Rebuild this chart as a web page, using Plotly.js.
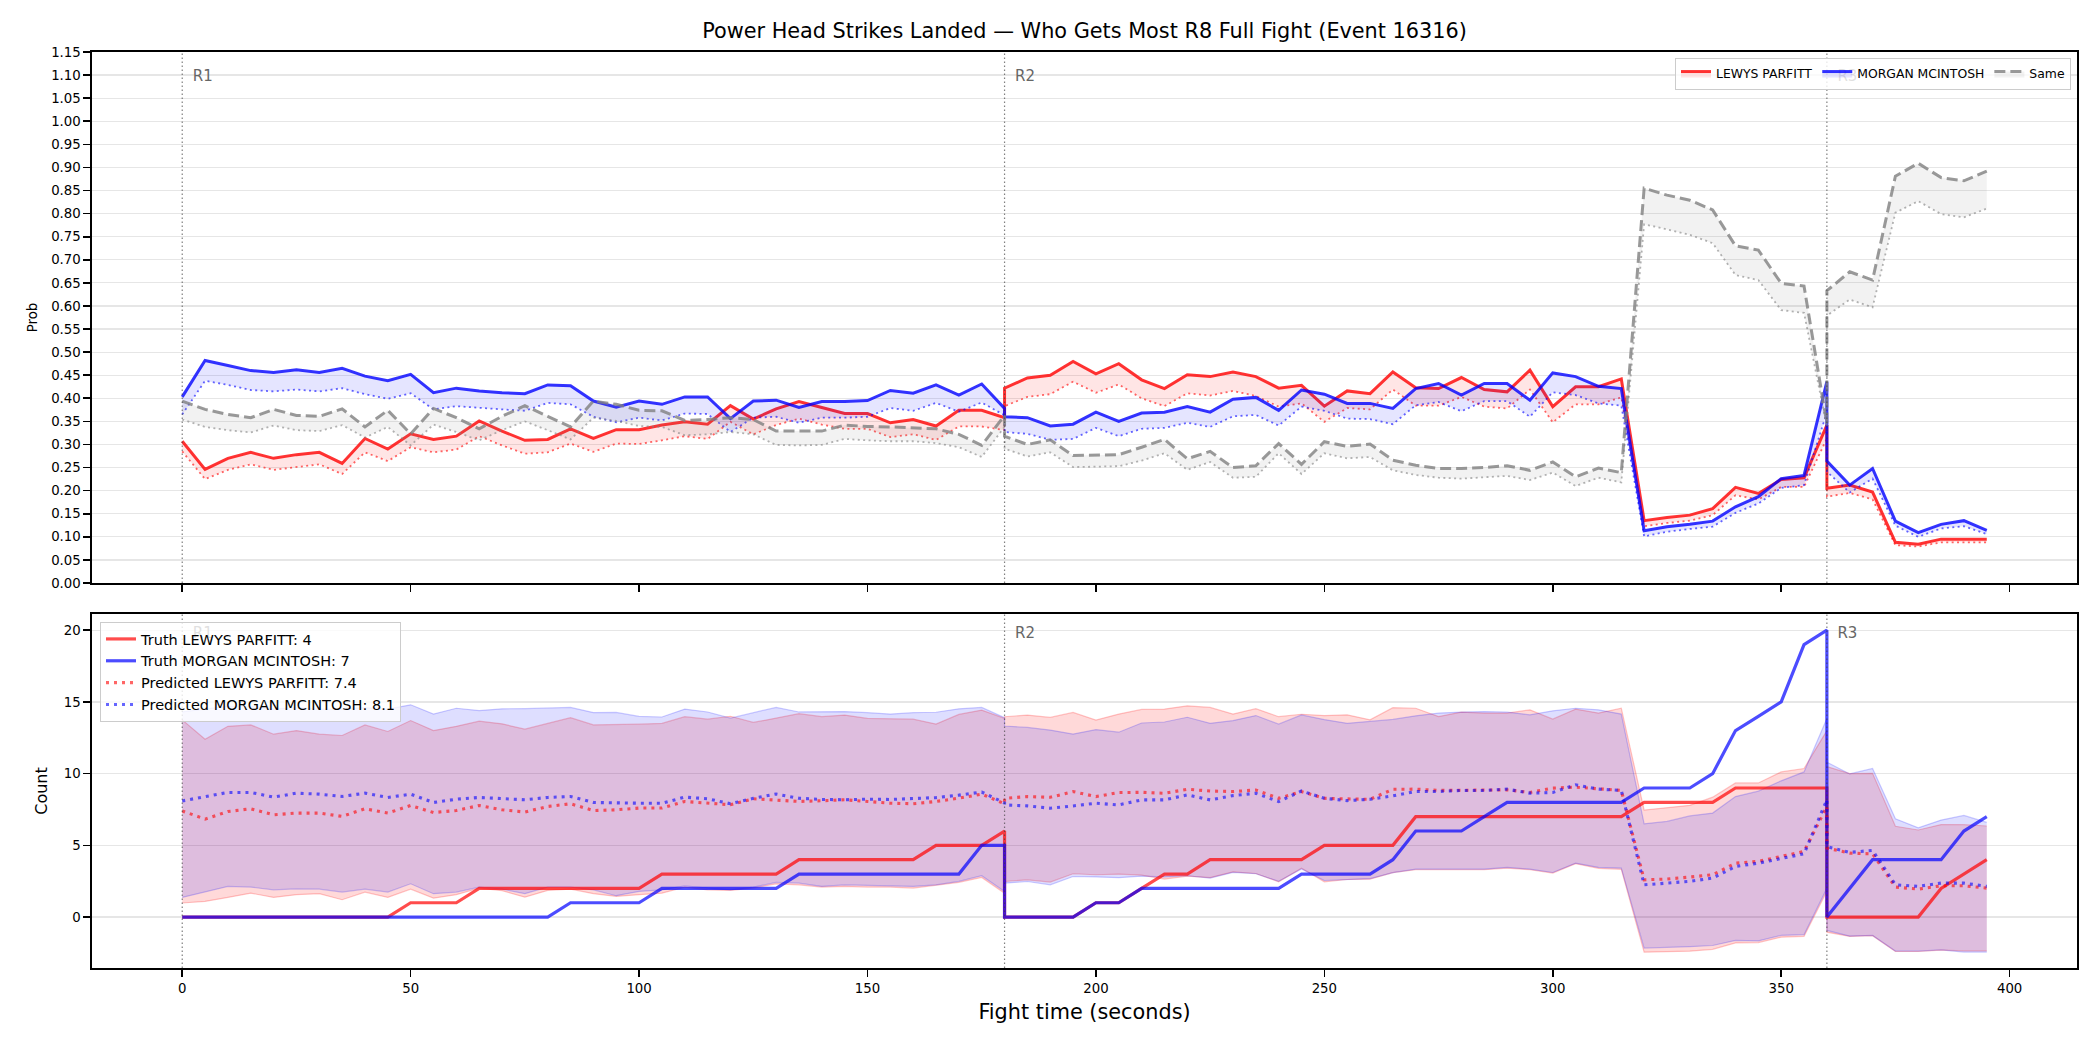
<!DOCTYPE html>
<html>
<head>
<meta charset="utf-8">
<script src="https://cdn.plot.ly/plotly-3.0.1.min.js"></script>
<style>
  html, body { margin: 0; padding: 0; background: #ffffff; }
  #chart { width: 2100px; height: 1050px; }
</style>
</head>
<body>
<div id="chart"></div>
<script>
// Fight clock (seconds); each round restarts its series at the round boundary.
const times = [
  0,5,10,15,20,25,30,35,40,45,50,55,60,65,70,75,80,85,90,95,100,105,110,115,120,125,130,135,140,145,150,155,160,165,170,175,180,
  180,185,190,195,200,205,210,215,220,225,230,235,240,245,250,255,260,265,270,275,280,285,290,295,300,305,310,315,320,325,330,335,340,345,350,355,360,
  360,365,370,375,380,385,390,395
];

const fighters = ['LEWYS PARFITT', 'MORGAN MCINTOSH'];
const sameLabel = 'Same';
const roundNames = ['R1', 'R2', 'R3'];
const roundStarts = [0, 180, 360];
const xTickVals = [0, 50, 100, 150, 200, 250, 300, 350, 400];

// Win-most probabilities (upper line and lower line of each band)
const parfittWin = [
  0.307,0.246,0.270,0.283,0.270,0.278,0.283,0.259,0.313,0.290,
  0.323,0.311,0.318,0.351,0.329,0.309,0.311,0.334,0.313,0.332,
  0.332,0.342,0.349,0.344,0.384,0.355,0.377,0.393,0.380,0.367,
  0.367,0.347,0.354,0.340,0.374,0.374,0.358,
  0.422,0.444,0.450,0.480,0.453,0.475,0.440,0.421,0.451,0.447,
  0.457,0.447,0.422,0.428,0.383,0.416,0.410,0.457,0.423,0.421,
  0.445,0.419,0.414,0.461,0.382,0.425,0.425,0.442,0.135,0.142,
  0.147,0.161,0.207,0.194,0.224,0.228,0.342,
  0.205,0.212,0.197,0.088,0.084,0.095,0.095,0.095
];
const parfittWinLow = [
  0.285,0.225,0.245,0.257,0.245,0.251,0.257,0.236,0.283,0.264,
  0.294,0.283,0.289,0.318,0.298,0.280,0.283,0.302,0.284,0.302,
  0.301,0.309,0.318,0.312,0.349,0.322,0.342,0.356,0.343,0.334,
  0.334,0.316,0.322,0.310,0.339,0.339,0.331,
  0.383,0.403,0.409,0.436,0.412,0.430,0.400,0.383,0.411,0.406,
  0.416,0.405,0.382,0.389,0.349,0.379,0.376,0.419,0.384,0.384,
  0.403,0.382,0.378,0.419,0.348,0.387,0.387,0.402,0.123,0.130,
  0.135,0.147,0.190,0.181,0.208,0.208,0.313,
  0.187,0.195,0.181,0.082,0.079,0.088,0.088,0.088
];
const mcintoshWin = [
  0.403,0.482,0.471,0.460,0.456,0.462,0.456,0.465,0.448,0.438,
  0.452,0.412,0.422,0.416,0.412,0.410,0.429,0.427,0.394,0.381,
  0.394,0.387,0.403,0.403,0.356,0.394,0.396,0.380,0.393,0.393,
  0.395,0.417,0.411,0.429,0.407,0.431,0.378,
  0.360,0.358,0.340,0.344,0.370,0.350,0.368,0.370,0.382,0.370,
  0.398,0.402,0.374,0.418,0.409,0.389,0.389,0.378,0.421,0.432,
  0.407,0.432,0.432,0.396,0.455,0.447,0.426,0.421,0.113,0.122,
  0.127,0.134,0.165,0.187,0.226,0.233,0.436,
  0.264,0.212,0.248,0.134,0.109,0.127,0.135,0.114
];
const mcintoshWinLow = [
  0.365,0.438,0.429,0.418,0.415,0.419,0.415,0.422,0.409,0.399,
  0.411,0.376,0.383,0.379,0.376,0.373,0.390,0.387,0.360,0.348,
  0.358,0.352,0.367,0.366,0.327,0.358,0.360,0.347,0.358,0.358,
  0.360,0.379,0.373,0.390,0.371,0.391,0.363,
  0.327,0.323,0.310,0.312,0.336,0.318,0.334,0.336,0.347,0.338,
  0.361,0.364,0.341,0.382,0.373,0.356,0.355,0.344,0.385,0.392,
  0.372,0.394,0.394,0.360,0.413,0.407,0.389,0.384,0.101,0.111,
  0.117,0.122,0.152,0.172,0.206,0.212,0.370,
  0.241,0.196,0.226,0.124,0.100,0.118,0.123,0.106
];
const sameWin = [
  0.394,0.376,0.365,0.358,0.376,0.363,0.361,0.377,0.338,0.374,
  0.323,0.378,0.358,0.334,0.361,0.384,0.361,0.338,0.394,0.387,
  0.374,0.373,0.352,0.354,0.358,0.354,0.329,0.329,0.329,0.342,
  0.339,0.338,0.336,0.334,0.322,0.298,0.363,
  0.318,0.300,0.310,0.276,0.277,0.278,0.294,0.311,0.269,0.285,
  0.250,0.254,0.302,0.257,0.306,0.296,0.301,0.266,0.255,0.248,
  0.248,0.250,0.254,0.244,0.262,0.230,0.249,0.239,0.855,0.840,
  0.829,0.808,0.730,0.721,0.649,0.643,0.345,
  0.633,0.674,0.656,0.881,0.909,0.878,0.871,0.892
];
const sameWinLow = [
  0.354,0.338,0.331,0.326,0.341,0.331,0.329,0.342,0.315,0.338,
  0.298,0.343,0.327,0.309,0.331,0.350,0.331,0.311,0.358,0.351,
  0.340,0.338,0.320,0.322,0.327,0.322,0.299,0.298,0.299,0.312,
  0.309,0.307,0.307,0.303,0.294,0.273,0.338,
  0.291,0.274,0.283,0.251,0.252,0.253,0.265,0.281,0.245,0.262,
  0.228,0.230,0.281,0.236,0.281,0.270,0.273,0.244,0.234,0.228,
  0.226,0.229,0.232,0.223,0.239,0.210,0.228,0.218,0.777,0.766,
  0.754,0.736,0.667,0.656,0.591,0.585,0.338,
  0.579,0.614,0.597,0.802,0.827,0.799,0.792,0.811
];

// Landed counts: truth, prediction and prediction interval
const truthParfitt = [
  0,0,0,0,0,0,0,0,0,0,1,1,1,2,2,2,2,2,2,2,2,3,3,3,3,3,3,4,4,4,4,4,4,5,5,5,6,
  0,0,0,0,1,1,2,3,3,4,4,4,4,4,5,5,5,5,7,7,7,7,7,7,7,7,7,7,8,8,8,8,9,9,9,9,9,
  0,0,0,0,0,2,3,4
];
const truthMcintosh = [
  0,0,0,0,0,0,0,0,0,0,0,0,0,0,0,0,0,1,1,1,1,2,2,2,2,2,2,3,3,3,3,3,3,3,3,5,5,
  0,0,0,0,1,1,2,2,2,2,2,2,2,3,3,3,3,4,6,6,6,7,8,8,8,8,8,8,9,9,9,10,13,14,15,19,20,
  0,2,4,4,4,4,6,7
];
const predParfitt = [
  7.40,6.83,7.36,7.55,7.13,7.25,7.25,7.02,7.55,7.25,
  7.78,7.29,7.43,7.78,7.48,7.32,7.71,7.90,7.43,7.48,
  7.60,7.60,8.06,7.94,7.83,8.25,8.18,8.06,8.11,8.18,
  8.06,7.94,7.90,8.06,8.29,8.57,7.90,
  8.28,8.40,8.35,8.75,8.40,8.68,8.70,8.63,8.91,8.79,
  8.75,8.86,8.28,8.75,8.28,8.24,8.21,8.91,8.92,8.83,
  8.83,8.83,8.87,8.69,8.99,9.06,8.92,8.83,2.60,2.65,
  2.79,2.95,3.76,3.88,4.23,4.58,7.71,
  4.81,4.46,4.41,2.09,1.95,2.18,2.18,2.02
];
const predMcintosh = [
  8.10,8.41,8.69,8.69,8.36,8.64,8.57,8.41,8.64,8.34,
  8.57,7.99,8.22,8.34,8.25,8.18,8.34,8.41,7.99,7.94,
  7.94,7.94,8.36,8.25,7.90,8.28,8.58,8.28,8.20,8.18,
  8.22,8.20,8.25,8.33,8.50,8.72,7.95,
  7.82,7.75,7.59,7.75,7.94,7.82,8.17,8.17,8.52,8.17,
  8.47,8.63,8.05,8.79,8.28,8.12,8.21,8.45,8.76,8.76,
  8.83,8.83,8.92,8.64,8.69,9.22,8.92,8.83,2.25,2.37,
  2.49,2.72,3.53,3.76,4.11,4.41,8.18,
  4.92,4.51,4.65,2.25,2.14,2.37,2.37,2.14
];
const parfittHi = [
  13.75,12.40,13.30,13.40,12.75,13.00,12.75,12.66,13.40,12.94,
  13.70,13.00,13.30,13.66,13.47,13.10,13.50,13.90,13.40,13.40,
  13.45,13.50,13.97,13.80,14.00,13.57,13.90,14.18,13.97,14.08,
  13.85,13.80,13.80,13.46,14.13,14.43,13.85,
  13.97,14.08,13.92,14.27,13.74,14.15,14.48,14.50,14.73,14.62,
  14.15,14.53,13.97,14.14,14.05,14.10,13.75,14.60,14.56,13.98,
  14.29,14.22,14.22,14.45,13.80,14.50,14.22,14.56,7.46,7.65,
  7.79,8.36,9.35,9.35,10.12,10.36,13.00,
  10.50,10.00,10.02,6.33,6.07,6.45,6.44,6.35
];
const parfittLo = [
  0.98,1.09,1.37,1.67,1.37,1.56,1.63,1.21,1.74,1.37,
  1.95,1.32,1.56,2.02,1.84,1.39,1.86,1.95,1.63,1.44,
  1.56,1.67,2.09,1.90,1.86,2.02,2.32,2.25,2.09,2.14,
  2.09,2.09,2.02,2.21,2.42,2.76,1.67,
  2.48,2.60,2.44,3.02,2.95,3.00,2.92,2.65,2.85,2.75,
  3.15,3.04,2.46,3.41,2.46,2.62,2.64,3.10,3.30,3.30,
  3.30,3.30,3.42,3.30,3.07,3.72,3.40,3.33,-2.45,-2.42,
  -2.38,-2.25,-1.80,-1.78,-1.40,-1.34,1.80,
  -1.05,-1.35,-1.30,-2.40,-2.40,-2.30,-2.35,-2.35
];
const mcintoshHi = [
  14.30,14.50,14.70,14.70,14.50,14.60,14.50,14.50,14.60,14.50,
  14.80,14.15,14.56,14.40,14.52,14.53,14.58,14.62,14.26,14.27,
  13.99,13.95,14.50,14.30,13.87,14.25,14.62,14.30,14.30,14.33,
  14.25,14.15,14.25,14.28,14.52,14.62,13.90,
  13.32,13.22,13.04,12.76,13.07,12.89,13.53,13.60,13.93,13.51,
  13.70,14.05,13.45,14.09,13.77,13.51,13.63,13.78,14.03,14.22,
  14.29,14.33,14.29,14.10,14.38,14.56,14.45,14.15,6.50,6.67,
  7.05,7.25,8.40,8.78,9.50,10.12,13.85,
  10.80,9.98,10.36,6.85,6.22,6.76,7.09,6.60
];
const mcintoshLo = [
  1.37,1.74,2.14,2.09,1.90,1.97,1.95,1.74,1.95,1.74,
  2.32,1.63,1.74,2.09,1.95,1.63,2.09,2.09,1.90,1.49,
  1.79,1.90,2.18,2.02,1.90,2.09,2.42,2.37,2.14,2.25,
  2.23,2.18,2.14,2.25,2.49,2.88,1.79,
  2.37,2.48,2.25,2.83,2.80,2.75,2.85,2.80,2.88,2.72,
  3.11,3.02,2.49,3.35,2.55,2.62,2.68,3.10,3.34,3.34,
  3.34,3.34,3.46,3.34,3.11,3.76,3.46,3.41,-2.16,-2.12,
  -2.06,-1.98,-1.63,-1.66,-1.27,-1.23,2.00,
  -0.93,-1.33,-1.28,-2.37,-2.37,-2.28,-2.44,-2.44
];

// ---- styling helpers ----
const FONT = 'DejaVu Sans, Liberation Sans, sans-serif';
const rgba = (rgb, a) => `rgba(${rgb},${a})`;
const RED = '255,0,0', BLUE = '0,0,255', GREY = '128,128,128';

const traces = [];

// Top panel: probability bands (lower dotted edge, upper line filled down to it)
function probBand(lowVals, highVals, rgb, name, dash, rank) {
  traces.push({
    x: times, y: lowVals, xaxis: 'x', yaxis: 'y', type: 'scatter', mode: 'lines',
    line: { color: rgba(rgb, 0.6), width: 1.8, dash: '2px,3.4px' },
    showlegend: false, hoverinfo: 'skip'
  });
  traces.push({
    x: times, y: highVals, xaxis: 'x', yaxis: 'y', type: 'scatter', mode: 'lines',
    fill: 'tonexty', fillcolor: rgba(rgb, 0.1),
    line: { color: rgba(rgb, 0.8), width: 3, dash: dash },
    name: name, legend: 'legend', legendrank: rank
  });
}
probBand(parfittWinLow, parfittWin, RED, fighters[0], 'solid', 1);
probBand(mcintoshWinLow, mcintoshWin, BLUE, fighters[1], 'solid', 2);
probBand(sameWinLow, sameWin, GREY, sameLabel, '11px,5px', 3);

// Bottom panel: prediction intervals
function countBand(lowVals, highVals, rgb, alpha) {
  traces.push({
    x: times, y: lowVals, xaxis: 'x2', yaxis: 'y2', type: 'scatter', mode: 'lines',
    line: { color: rgba(rgb, alpha + 0.07), width: 1.2 },
    showlegend: false, hoverinfo: 'skip'
  });
  traces.push({
    x: times, y: highVals, xaxis: 'x2', yaxis: 'y2', type: 'scatter', mode: 'lines',
    fill: 'tonexty', fillcolor: rgba(rgb, alpha),
    line: { color: rgba(rgb, alpha + 0.07), width: 1.2 },
    showlegend: false, hoverinfo: 'skip'
  });
}
countBand(parfittLo, parfittHi, RED, 0.15);
countBand(mcintoshLo, mcintoshHi, BLUE, 0.13);

const last = arr => arr[arr.length - 1];
traces.push({
  x: times, y: truthParfitt, xaxis: 'x2', yaxis: 'y2', type: 'scatter', mode: 'lines',
  line: { color: rgba(RED, 0.7), width: 3.2 },
  name: `Truth ${fighters[0]}: ${last(truthParfitt)}`, legend: 'legend2', legendrank: 1
});
traces.push({
  x: times, y: truthMcintosh, xaxis: 'x2', yaxis: 'y2', type: 'scatter', mode: 'lines',
  line: { color: rgba(BLUE, 0.7), width: 3.2 },
  name: `Truth ${fighters[1]}: ${last(truthMcintosh)}`, legend: 'legend2', legendrank: 2
});
traces.push({
  x: times, y: predParfitt, xaxis: 'x2', yaxis: 'y2', type: 'scatter', mode: 'lines',
  line: { color: rgba(RED, 0.6), width: 3.1, dash: '3px,5px' },
  name: `Predicted ${fighters[0]}: ${predParfitt[0].toFixed(1)}`, legend: 'legend2', legendrank: 3
});
traces.push({
  x: times, y: predMcintosh, xaxis: 'x2', yaxis: 'y2', type: 'scatter', mode: 'lines',
  line: { color: rgba(BLUE, 0.6), width: 3.1, dash: '3px,5px' },
  name: `Predicted ${fighters[1]}: ${predMcintosh[0].toFixed(1)}`, legend: 'legend2', legendrank: 4
});

// Round labels, drawn as text marks so the semi-transparent legends sit above them
const labelShift = 2.3;
traces.push({
  x: roundStarts.map(t => t + labelShift), y: roundStarts.map(() => 1.095),
  xaxis: 'x', yaxis: 'y', type: 'scatter', mode: 'text', text: roundNames,
  textposition: 'middle right', textfont: { family: FONT, size: 15, color: '#666666' },
  showlegend: false, hoverinfo: 'skip', cliponaxis: false
});
traces.push({
  x: roundStarts.map(t => t + labelShift), y: roundStarts.map(() => 19.7),
  xaxis: 'x2', yaxis: 'y2', type: 'scatter', mode: 'text', text: roundNames,
  textposition: 'middle right', textfont: { family: FONT, size: 15, color: '#666666' },
  showlegend: false, hoverinfo: 'skip', cliponaxis: false
});

// Dotted round boundaries in both panels
const shapes = [];
roundStarts.forEach(t => {
  [['x', 'y domain'], ['x2', 'y2 domain']].forEach(([xr, yr]) => {
    shapes.push({
      type: 'line', xref: xr, yref: yr, x0: t, x1: t, y0: 0, y1: 1, layer: 'above',
      line: { color: 'rgba(60,60,60,0.65)', width: 1.2, dash: '1.5px,2.5px' }
    });
  });
});

const X_RANGE = [-19.75, 414.75];
const axisCommon = {
  showline: true, mirror: true, linecolor: '#000000', linewidth: 1.6,
  ticks: 'outside', ticklen: 7, tickwidth: 1.6, tickcolor: '#000000',
  zeroline: false, automargin: false,
  tickfont: { family: FONT, size: 13.3, color: '#000000' }
};

const layout = {
  width: 2100, height: 1050,
  margin: { l: 92, r: 23, t: 0, b: 0 },
  paper_bgcolor: '#ffffff', plot_bgcolor: '#ffffff',
  font: { family: FONT, color: '#000000' },
  title: {
    text: 'Power Head Strikes Landed — Who Gets Most R8 Full Fight (Event 16316)',
    font: { family: FONT, size: 20.8, color: '#000000' },
    x: 0.5, xref: 'paper', xanchor: 'center',
    y: 1 - 31 / 1050, yref: 'container', yanchor: 'middle'
  },
  xaxis: Object.assign({}, axisCommon, {
    domain: [0, 1], anchor: 'y', range: X_RANGE, tickvals: xTickVals,
    showticklabels: false, showgrid: false
  }),
  yaxis: Object.assign({}, axisCommon, {
    domain: [1 - 583 / 1050, 1 - 52 / 1050], anchor: 'x', range: [0, 1.15],
    tick0: 0, dtick: 0.05, tickformat: '.2f',
    showgrid: true, gridcolor: '#e6e6e6', gridwidth: 1.2,
    title: { text: 'Prob', font: { family: FONT, size: 13.3 }, standoff: 10 }
  }),
  xaxis2: Object.assign({}, axisCommon, {
    domain: [0, 1], anchor: 'y2', range: X_RANGE, tickvals: xTickVals,
    showgrid: false,
    title: { text: 'Fight time (seconds)', font: { family: FONT, size: 20.8 }, standoff: 10 }
  }),
  yaxis2: Object.assign({}, axisCommon, {
    domain: [1 - 968 / 1050, 1 - 614 / 1050], anchor: 'x2', range: [-3.55, 21.13],
    tick0: 0, dtick: 5,
    showgrid: true, gridcolor: '#e6e6e6', gridwidth: 1.2,
    title: { text: 'Count', font: { family: FONT, size: 16 }, standoff: 12 }
  }),
  legend: {
    orientation: 'h', traceorder: 'normal',
    x: (2071 - 92) / 1985, xanchor: 'right', y: 1 - 58 / 1050, yanchor: 'top',
    bgcolor: 'rgba(255,255,255,0.8)', bordercolor: '#cccccc', borderwidth: 1,
    font: { family: FONT, size: 12.4, color: '#000000' }
  },
  legend2: {
    orientation: 'v', traceorder: 'normal',
    x: (100 - 92) / 1985, xanchor: 'left', y: 1 - 622 / 1050, yanchor: 'top',
    bgcolor: 'rgba(255,255,255,0.8)', bordercolor: '#cccccc', borderwidth: 1,
    font: { family: FONT, size: 14.5, color: '#000000' }
  },
  shapes: shapes,
  showlegend: true
};

Plotly.newPlot('chart', traces, layout, { displayModeBar: false, staticPlot: true });
</script>
</body>
</html>
